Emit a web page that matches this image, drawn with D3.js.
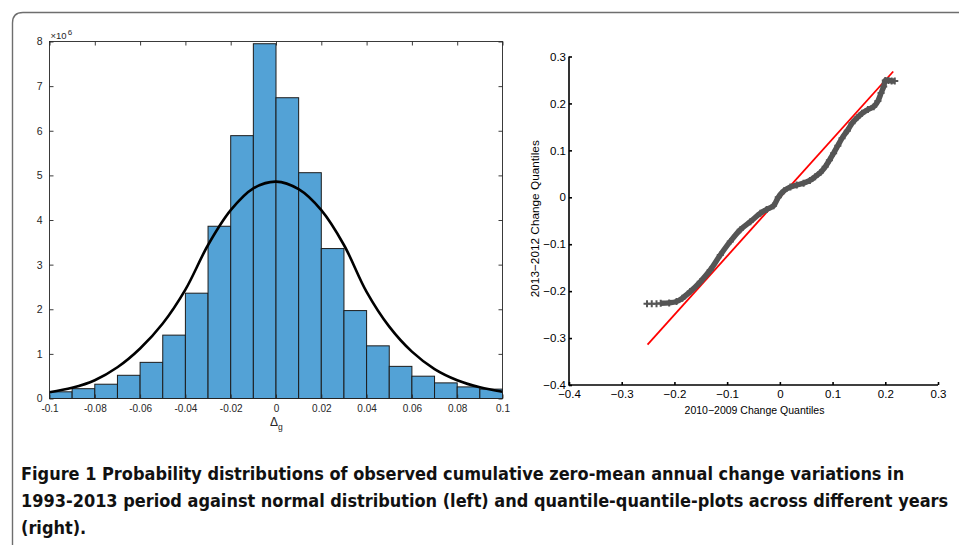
<!DOCTYPE html>
<html>
<head>
<meta charset="utf-8">
<script src="https://cdn.jsdelivr.net/npm/d3@7"></script>
<style>
  body { margin: 0; background: #fff; }
  svg { display: block; }
</style>
</head>
<body>
<div id="chart"></div>
<script>
// Histogram (left): bin edges and heights (x10^6)
const histBinLeft  = [-0.1, -0.09, -0.08, -0.07, -0.06, -0.05, -0.04, -0.03, -0.02, -0.01,
                      0, 0.01, 0.02, 0.03, 0.04, 0.05, 0.06, 0.07, 0.08, 0.09];
const histBinRight = [-0.09, -0.08, -0.07, -0.06, -0.05, -0.04, -0.03, -0.02, -0.01, 0,
                      0.01, 0.02, 0.03, 0.04, 0.05, 0.06, 0.07, 0.08, 0.09, 0.1];
const histCounts   = [0.15, 0.22, 0.32, 0.52, 0.81, 1.42, 2.36, 3.86, 5.89, 7.95,
                      6.74, 5.06, 3.36, 1.97, 1.18, 0.72, 0.50, 0.35, 0.26, 0.21];

// normal fit curve
const normX = [-0.1, -0.09, -0.08, -0.07, -0.06, -0.05, -0.04, -0.03, -0.02, -0.01, 0,
               0.01, 0.02, 0.03, 0.04, 0.05, 0.06, 0.07, 0.08, 0.09, 0.1];
const normY = [0.14, 0.24, 0.41, 0.70, 1.12, 1.68, 2.44, 3.44, 4.22, 4.71, 4.86,
               4.69, 4.22, 3.44, 2.39, 1.61, 1.05, 0.66, 0.41, 0.25, 0.15];

const histXTicks = [-0.1, -0.08, -0.06, -0.04, -0.02, 0, 0.02, 0.04, 0.06, 0.08, 0.1];
const histXLabels = ["-0.1", "-0.08", "-0.06", "-0.04", "-0.02", "0", "0.02", "0.04", "0.06", "0.08", "0.1"];
const histYTicks = [0, 1, 2, 3, 4, 5, 6, 7, 8];

// QQ plot (right)
const qqX = [-0.252, -0.243, -0.234, -0.226, -0.210, -0.196, -0.185, -0.170, -0.151, -0.132,
             -0.113, -0.094, -0.075, -0.056, -0.037, -0.025, -0.012, -0.003, 0.008, 0.020,
             0.032, 0.045, 0.057, 0.067, 0.077, 0.086, 0.094, 0.102, 0.110, 0.118,
             0.128, 0.137, 0.147, 0.156, 0.167, 0.178, 0.186, 0.192, 0.197, 0.200,
             0.206, 0.212, 0.218];
const qqY = [-0.227, -0.227, -0.227, -0.226, -0.225, -0.222, -0.215, -0.201, -0.180, -0.155,
             -0.123, -0.094, -0.069, -0.052, -0.034, -0.026, -0.018, 0.000, 0.014, 0.022,
             0.026, 0.030, 0.036, 0.044, 0.053, 0.065, 0.079, 0.094, 0.110, 0.126,
             0.142, 0.158, 0.170, 0.179, 0.187, 0.193, 0.205, 0.222, 0.236, 0.249,
             0.249, 0.248, 0.248];
const refLineX = [-0.251, 0.215];
const refLineY = [-0.314, 0.268];

const qqTicks = [-0.4, -0.3, -0.2, -0.1, 0, 0.1, 0.2, 0.3];
const qqLabels = ["\u22120.4", "\u22120.3", "\u22120.2", "\u22120.1", "0", "0.1", "0.2", "0.3"];

const captionLines = [
  "Figure 1  Probability distributions of observed cumulative zero-mean annual change variations in",
  "1993-2013 period against normal distribution (left) and quantile-quantile-plots across different years",
  "(right)."
];

const FONT = "'Liberation Sans', Arial, Helvetica, sans-serif";
const W = 959, H = 545;
const svg = d3.select("#chart").append("svg").attr("width", W).attr("height", H);
svg.append("rect").attr("width", W).attr("height", H).attr("fill", "#fff");

// rounded frame, only top-left visible
svg.append("path")
  .attr("d", "M12.5,560 L12.5,23 Q12.5,12.5 23,12.5 L980,12.5")
  .attr("fill", "none").attr("stroke", "#6e6e6e").attr("stroke-width", 1.4);

// ---------- left: histogram ----------
const xL = d3.scaleLinear().domain([-0.1, 0.1]).range([49.5, 502.5]);
const yL = d3.scaleLinear().domain([0, 8]).range([398.5, 41.5]);
const gL = svg.append("g");

gL.selectAll(".bar")
  .data(histCounts)
  .enter().append("rect")
  .attr("class", "bar")
  .attr("x", (d, i) => xL(histBinLeft[i]))
  .attr("y", d => yL(d))
  .attr("width", (d, i) => xL(histBinRight[i]) - xL(histBinLeft[i]))
  .attr("height", d => yL(0) - yL(d))
  .attr("fill", "#53a2d6")
  .attr("stroke", "#1c1c1c")
  .attr("stroke-width", 1);

gL.append("path")
  .datum(normX.map((x, i) => [x, normY[i]]))
  .attr("fill", "none")
  .attr("stroke", "#000")
  .attr("stroke-width", 2.6)
  .attr("d", d3.line().x(d => xL(d[0])).y(d => yL(d[1])).curve(d3.curveCatmullRom));

function styleAx(g, col, size) {
  g.attr("font-family", FONT).attr("font-size", size);
  g.select(".domain").remove();
  g.selectAll("line").attr("stroke", col).attr("stroke-width", 0.9);
  g.selectAll("text").attr("fill", col);
}

gL.append("g")
  .attr("transform", `translate(0,${yL(0)})`)
  .call(d3.axisBottom(xL).tickValues(histXTicks).tickSizeInner(-4).tickSizeOuter(0)
    .tickPadding(6).tickFormat((d, i) => histXLabels[i]))
  .call(g => styleAx(g, "#262626", 10));
gL.append("g")
  .attr("transform", `translate(0,${yL(8)})`)
  .call(d3.axisTop(xL).tickValues(histXTicks).tickSizeInner(-4).tickSizeOuter(0).tickFormat(""))
  .call(g => styleAx(g, "#262626", 10));
gL.append("g")
  .attr("transform", `translate(${xL(-0.1)},0)`)
  .call(d3.axisLeft(yL).tickValues(histYTicks).tickSizeInner(-4).tickSizeOuter(0)
    .tickPadding(7).tickFormat(d3.format("d")))
  .call(g => styleAx(g, "#262626", 10.5));
gL.append("g")
  .attr("transform", `translate(${xL(0.1)},0)`)
  .call(d3.axisRight(yL).tickValues(histYTicks).tickSizeInner(-4).tickSizeOuter(0).tickFormat(""))
  .call(g => styleAx(g, "#262626", 10));

gL.append("rect")
  .attr("x", xL(-0.1)).attr("y", yL(8))
  .attr("width", xL(0.1) - xL(-0.1)).attr("height", yL(0) - yL(8))
  .attr("fill", "none").attr("stroke", "#262626").attr("stroke-width", 0.9);

// exponent label
const ex = gL.append("text")
  .attr("x", xL(-0.1) + 1).attr("y", yL(8) - 3)
  .attr("fill", "#262626")
  .style("font-family", FONT)
  .style("font-size", "9.5px");
ex.append("tspan").text("\u00d710");
ex.append("tspan").attr("dx", 1).attr("dy", -4).style("font-size", "8px").text("6");

// x label Δg
const xl = gL.append("text")
  .attr("x", xL(0) - 6).attr("y", 426)
  .attr("fill", "#262626")
  .style("font-family", FONT)
  .style("font-size", "12px");
xl.append("tspan").text("\u0394");
xl.append("tspan").attr("dy", 4).style("font-size", "8.5px").text("g");

// ---------- right: QQ plot ----------
const xR = d3.scaleLinear().domain([-0.4, 0.3]).range([569, 938]);
const yR = d3.scaleLinear().domain([-0.4, 0.3]).range([385, 56.5]);
const gR = svg.append("g");

gR.append("line")
  .attr("x1", xR(refLineX[0])).attr("y1", yR(refLineY[0]))
  .attr("x2", xR(refLineX[1])).attr("y2", yR(refLineY[1]))
  .attr("stroke", "#ff0000").attr("stroke-width", 1.8);

const qq = qqX.map((x, i) => [x, qqY[i]]);
gR.append("path")
  .datum(qq.slice(3))
  .attr("fill", "none")
  .attr("stroke", "#555")
  .attr("stroke-width", 5.5)
  .attr("stroke-linejoin", "round")
  .attr("d", d3.line().x(d => xR(d[0])).y(d => yR(d[1])).curve(d3.curveCatmullRom));

gR.selectAll(".plus")
  .data(qq)
  .enter().append("path")
  .attr("class", "plus")
  .attr("transform", d => `translate(${xR(d[0])},${yR(d[1])})`)
  .attr("d", "M-3.5,0H3.5M0,-3.5V3.5")
  .attr("stroke", "#555")
  .attr("stroke-width", 2);

function styleR(g) {
  g.attr("font-family", FONT).attr("font-size", 11.5);
  g.select(".domain").remove();
  g.selectAll("line").attr("stroke", "#000").attr("stroke-width", 1.6);
  g.selectAll("text").attr("fill", "#000");
}

gR.append("g")
  .attr("transform", `translate(0,${yR(-0.4)})`)
  .call(d3.axisBottom(xR).tickValues(qqTicks).tickSizeInner(-3).tickSizeOuter(0)
    .tickPadding(5).tickFormat((d, i) => qqLabels[i]))
  .call(styleR);
gR.append("g")
  .attr("transform", `translate(${xR(-0.4)},0)`)
  .call(d3.axisLeft(yR).tickValues(qqTicks).tickSizeInner(-3).tickSizeOuter(0)
    .tickPadding(3).tickFormat((d, i) => qqLabels[i]))
  .call(styleR);

gR.append("path")
  .attr("d", `M${xR(-0.4)},${yR(0.3)}V${yR(-0.4)}H${xR(0.3)}`)
  .attr("fill", "none").attr("stroke", "#000").attr("stroke-width", 1.6);

gR.append("text")
  .attr("x", xR(-0.05) + 1).attr("y", 414)
  .attr("text-anchor", "middle")
  .style("font-family", FONT)
  .style("font-size", "10.5px")
  .text("2010\u22122009 Change Quantiles");
gR.append("text")
  .attr("transform", `translate(539,${yR(-0.05) - 2}) rotate(-90)`)
  .attr("text-anchor", "middle")
  .style("font-family", FONT)
  .style("font-size", "11.8px")
  .text("2013\u22122012 Change Quantiles");

// ---------- caption ----------
const cap = svg.append("g");
const capText = cap.selectAll(".cap")
  .data(captionLines)
  .enter().append("text")
  .attr("class", "cap")
  .attr("x", 0)
  .attr("y", (d, i) => 480 + i * 27)
  .style("font-family", "'DejaVu Sans Condensed', 'Liberation Sans Narrow', 'DejaVu Sans', sans-serif")
  .style("font-weight", "700")
  .style("font-size", "18.5px")
  .attr("fill", "#111")
  .text(d => d);
// squeeze horizontally so the widest line fits like the reference
const natural = capText.nodes()[1].getComputedTextLength();
const sx = 928 / natural;
cap.attr("transform", `translate(21,0) scale(${sx},1)`);
</script>
</body>
</html>
